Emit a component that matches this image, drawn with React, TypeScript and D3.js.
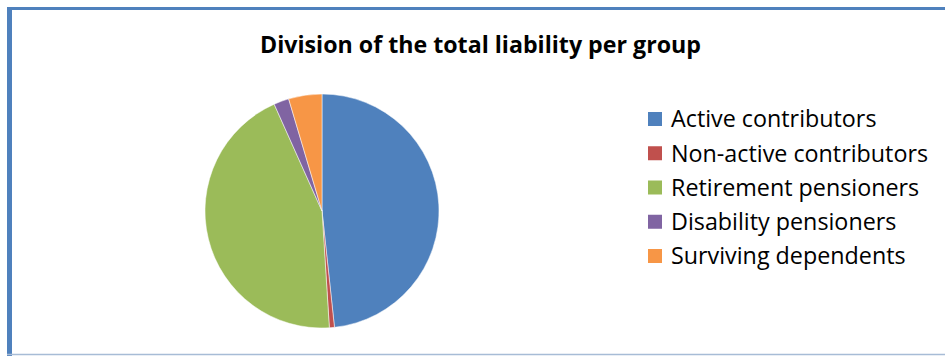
import React from "react";
import * as d3 from "d3";

const categories = ["Active contributors", "Non-active contributors", "Retirement pensioners", "Disability pensioners", "Surviving dependents"];
const values = [48.3, 0.7, 44.3, 2.1, 4.6];
const colors = ["#4F81BD", "#C0504D", "#9BBB59", "#8064A2", "#F79646"];
const title = "Division of the total liability per group";

export default function App() {
  const W = 945, H = 356;
  const cx = 322, cy = 211, r = 117;
  const pie = d3.pie<number>().sort(null).value((d) => d);
  const arcs = pie(values);
  const arc = d3.arc<d3.PieArcDatum<number>>().innerRadius(0).outerRadius(r);
  const legendY = d3.scalePoint<string>().domain(categories).range([119, 256]);
  const font = "'Open Sans', sans-serif";
  return (
    <svg width={W} height={H} style={{ position: "absolute", left: 0, top: 0 }}>
      <rect x={0} y={0} width={W} height={H} fill="#fff" />
      <line x1={9.5} x2={9.5} y1={7} y2={356} stroke="#4F81BD" strokeWidth={5} />
      <line x1={7} x2={945} y1={8.5} y2={8.5} stroke="#4F81BD" strokeWidth={3} />
      <line x1={7} x2={945} y1={354.5} y2={354.5} stroke="#A7BCD6" strokeWidth={1.5} />
      <text x={480.5} y={53} textAnchor="middle" fontFamily={font} fontWeight="bold" fontSize={23.2} fill="#000">
        {title}
      </text>
      <g transform={`translate(${cx},${cy})`}>
        {arcs.map((a, i) => (
          <path key={i} d={arc(a) || ""} fill={colors[i]} stroke="#fff" strokeWidth={0.5} />
        ))}
      </g>
      {categories.map((c, i) => (
        <g key={c} transform={`translate(648,${legendY(c)})`}>
          <rect x={0} y={-7} width={14} height={14} fill={colors[i]} />
          <text x={23} y={0} dy="0.36em" fontFamily={font} fontSize={23.3} fill="#000">
            {c}
          </text>
        </g>
      ))}
    </svg>
  );
}
